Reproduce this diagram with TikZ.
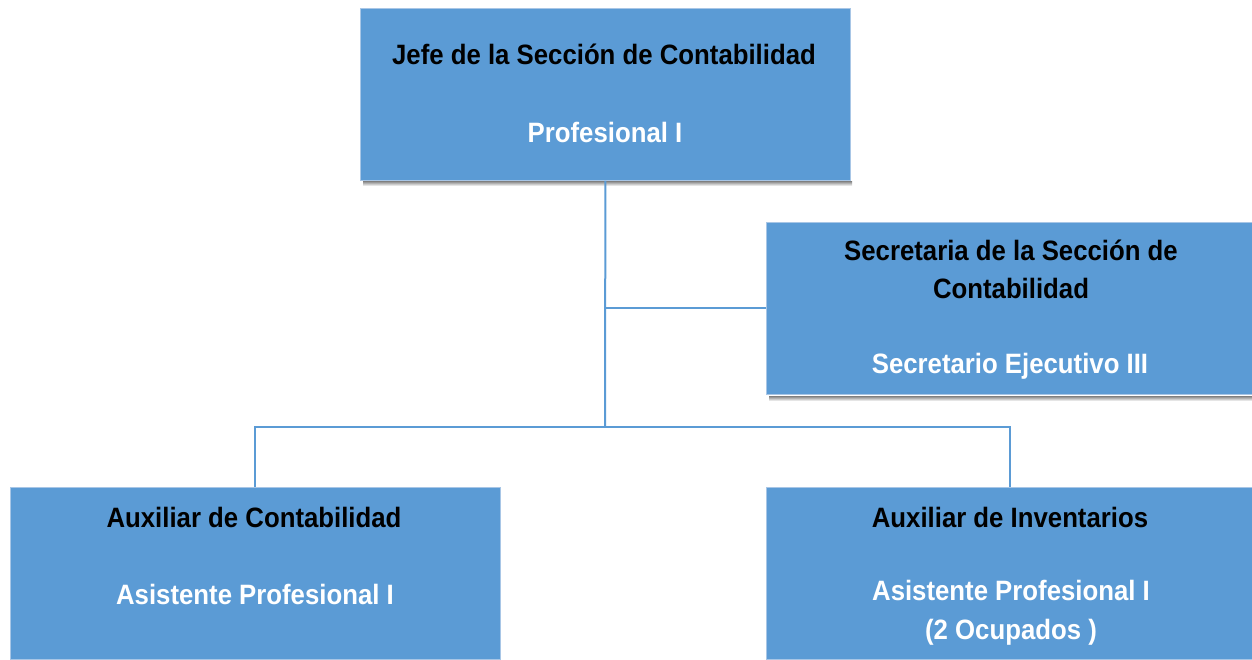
\documentclass[tikz,border=0pt]{standalone}
\usepackage{fontspec}
\setmainfont{Liberation Sans}[FakeStretch=0.92]
\definecolor{boxblue}{HTML}{5B9BD5}
\definecolor{boxedge}{HTML}{A8C6E6}
\definecolor{shade}{HTML}{E8EFF7}
\begin{document}
\begin{tikzpicture}[x=1pt,y=-1pt,
  orgbox/.style={draw=boxedge, line width=0.8pt, fill=boxblue, minimum width=490pt, minimum height=172pt, inner sep=0pt, anchor=north west},
  title/.style={font=\fontsize{28}{38}\selectfont\bfseries, text=black, inner sep=0pt, align=center},
  sub/.style={font=\fontsize{28}{39}\selectfont\bfseries, text=white, inner sep=0pt, align=center},
  link/.style={draw=boxblue, line width=2pt}]
\useasboundingbox (0,0) rectangle (1252,659);
% shadows
\fill[shade] (363,181) rectangle (852,186);
\fill[shade] (769,396) rectangle (1252,401);
% boxes
\node[orgbox] (jefe) at (360,8) {};
\node[orgbox, minimum width=486pt] (secr) at (766,222) {};
\node[orgbox] (auxc) at (10,487) {};
\node[orgbox, minimum width=486pt] (auxi) at (766,487) {};
% texts
\node[title] (jefeT) at (604,54) {Jefe de la Sección de Contabilidad};
\node[sub] (jefeS) at (605,132) {Profesional I};
\node[title] (secrT) at (1011,269) {Secretaria de la Sección de\\Contabilidad};
\node[sub] (secrS) at (1010,366) {Secretario Ejecutivo III};
\node[title] (auxcT) at (254,517) {Auxiliar de Contabilidad};
\node[sub] (auxcS) at (255,594) {Asistente Profesional I};
\node[title] (auxiT) at (1010,517) {Auxiliar de Inventarios};
\node[sub] (auxiS) at (1011,613) {Asistente Profesional I\\(2 Ocupados )};
% connectors
\coordinate (j1) at (605,308);
\coordinate (j2) at (605,427);
\draw[link] (jefe.south) -- (j2);
\draw[link] (j1) -- (secr.west |- j1);
\draw[link] (auxc.north) |- (j2) -| (auxi.north -| 1010,0);
\end{tikzpicture}
\end{document}
